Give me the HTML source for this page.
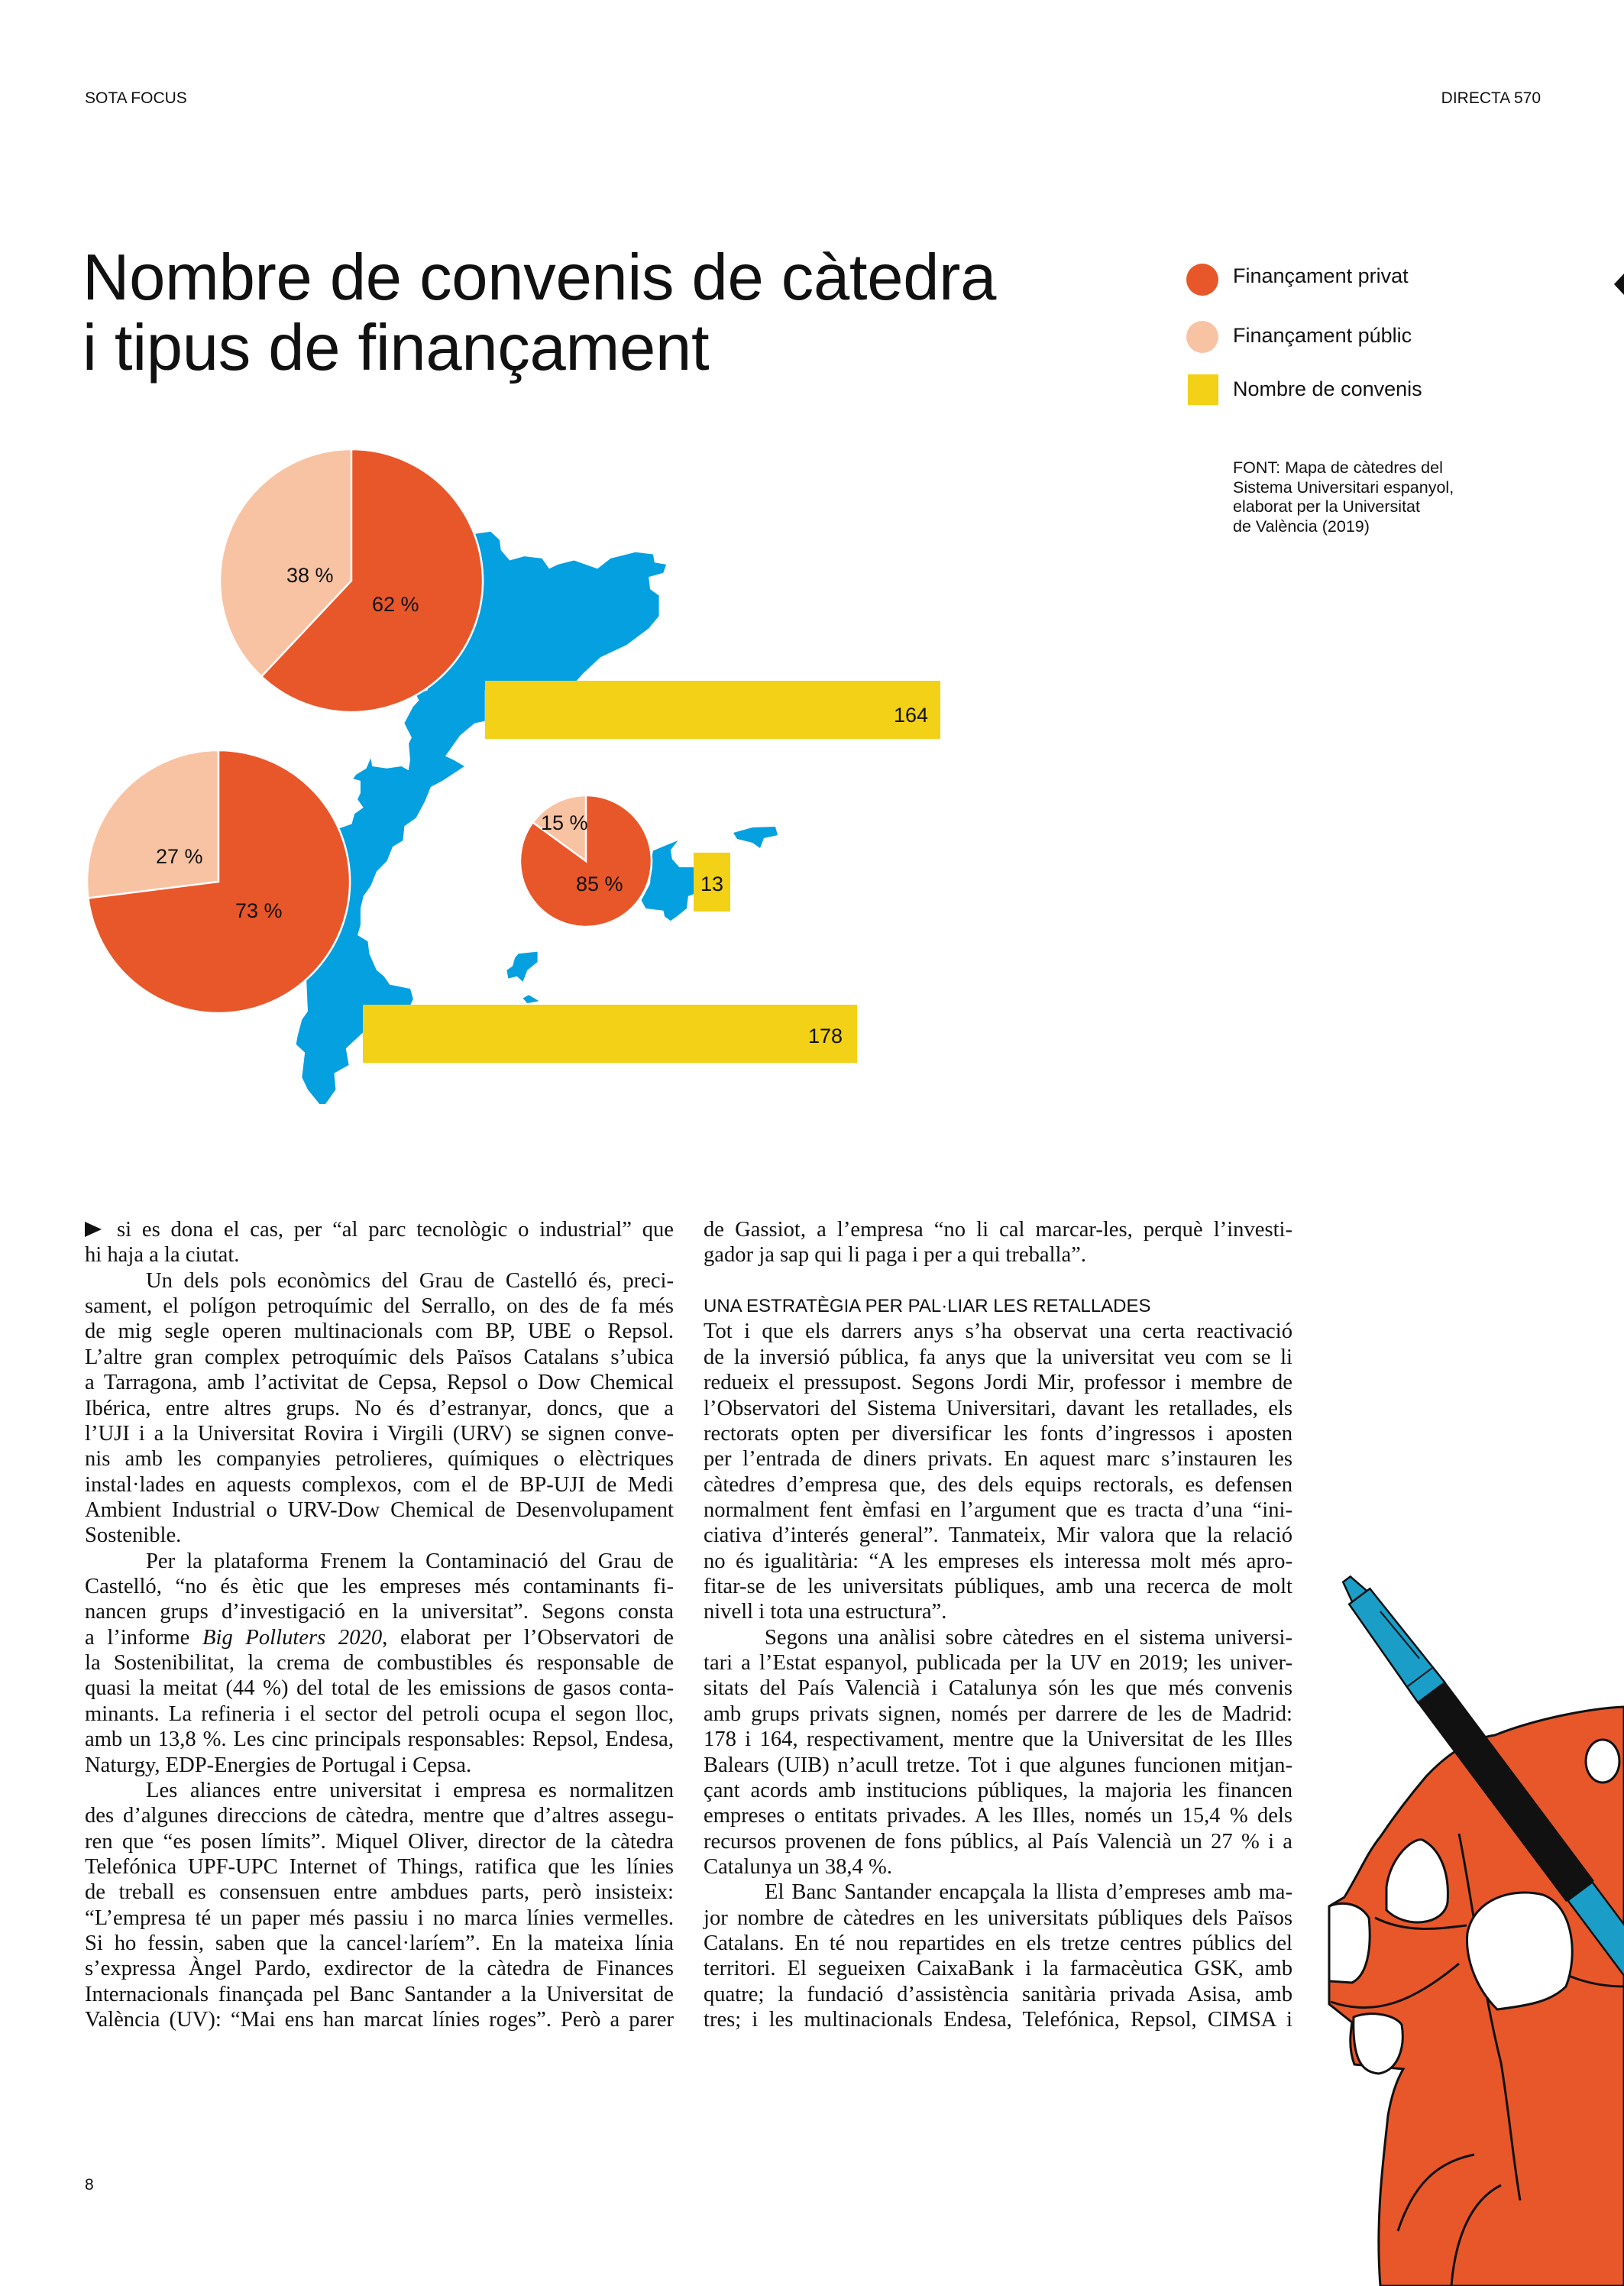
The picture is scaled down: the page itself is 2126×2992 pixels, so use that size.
<!DOCTYPE html>
<html><head><meta charset="utf-8">
<style>
html,body{margin:0;padding:0;background:#fff;}
body{width:2126px;height:2992px;position:relative;overflow:hidden;font-family:"Liberation Sans",sans-serif;color:#111;}
.abs{position:absolute;white-space:nowrap;}
.col{position:absolute;top:1593px;width:771px;font-family:"Liberation Serif",serif;font-size:28.6px;line-height:33.36px;color:#111;}
.col div{height:33.36px;white-space:nowrap;text-align:left;}
.col div.j{text-align:justify;text-align-last:justify;white-space:normal;overflow:visible;}
.col div.i{padding-left:80px;}
.lg{font-size:27px;}
.src{font-size:21.5px;line-height:25.5px;}
</style></head><body>

<div class="abs" style="left:111px;top:117px;font-size:21px;">SOTA FOCUS</div>
<div class="abs" style="right:109px;top:117px;font-size:21px;">DIRECTA 570</div>

<div class="abs" style="left:108px;top:318px;font-size:85px;line-height:92px;letter-spacing:-0.3px;">Nombre de convenis de càtedra<br>i tipus de finançament</div>

<svg class="abs" style="left:0;top:0" width="2126" height="1500">
  <circle cx="1574" cy="366" r="21" fill="#e8572a"/>
  <circle cx="1574" cy="441" r="21" fill="#f8c3a3"/>
  <rect x="1555" y="490" width="40" height="40" fill="#f2d116"/>
  <polygon points="2126,358 2113,372 2126,386" fill="#111"/>
  <g transform="translate(380,650) scale(0.383,0.539)" fill="#04a0e0">
    <path d="M635,90 L685,85 715,105 720,130 750,155 800,145 860,150 885,175 915,165 970,155 1050,175 1095,150 1180,135 1240,140 1245,160 1285,165 1275,185 1225,195 1230,225 1260,240 1260,290 1225,320 1150,360 1060,390 1000,430 975,450 975,470 665,470 665,545 630,550 580,580 560,600 530,630 560,640 595,655 520,690 480,705 460,740 430,780 390,800 385,835 350,850 330,885 295,910 275,945 250,970 240,1000 240,1040 230,1065 265,1080 270,1110 295,1150 320,1165 340,1185 410,1195 420,1220 400,1250 250,1250 250,1300 190,1340 200,1380 150,1400 155,1440 120,1475 100,1475 60,1440 40,1410 50,1350 20,1330 25,1310 40,1270 60,1250 55,1170 0,1190 0,800 170,805 210,795 220,770 250,755 230,735 240,720 240,690 215,685 225,675 260,660 275,635 280,655 330,660 380,655 405,665 400,680 410,640 405,600 415,585 390,550 420,510 440,495 430,480 470,470 400,300 500,150 Z"/>
    <path d="M1240,860 L1290,845 1325,835 1300,858 1305,880 1330,900 1380,900 1380,965 1360,970 1355,1000 1320,1020 1300,1030 1280,1020 1275,1005 1215,1000 1200,980 1230,940 1235,880 Z"/>
    <path d="M780,1110 L845,1105 845,1130 810,1150 795,1178 775,1165 745,1170 740,1150 760,1140 768,1120 Z"/>
    <path d="M795,1218 L815,1210 850,1225 810,1230 Z"/>
  </g>
  <polygon points="960,1090 985,1083 1015,1082 1018,1093 1000,1097 995,1110 985,1103 965,1098" fill="#04a0e0"/>
  <rect x="635" y="891" width="596" height="76" fill="#f2d116"/>
  <rect x="908" y="1116" width="48" height="77" fill="#f2d116"/>
  <rect x="475" y="1315" width="647" height="76" fill="#f2d116"/>
  <g stroke="#fff" stroke-width="2.5">
    <circle cx="460" cy="760" r="172" fill="#f8c3a3"/>
    <path d="M460,760 L460,588 A172,172 0 1,1 342.3,885.4 Z" fill="#e8572a"/>
    <circle cx="286" cy="1154" r="172" fill="#f8c3a3"/>
    <path d="M286,1154 L286,982 A172,172 0 1,1 115.4,1175.5 Z" fill="#e8572a"/>
    <circle cx="767" cy="1127" r="86" fill="#f8c3a3"/>
    <path d="M767,1127 L767,1041 A86,86 0 1,1 697.4,1076.4 Z" fill="#e8572a"/>
  </g>
  <g font-family="Liberation Sans, sans-serif" font-size="27" fill="#111">
    <text x="375" y="762">38 %</text>
    <text x="487" y="800">62 %</text>
    <text x="204" y="1130">27 %</text>
    <text x="308" y="1201">73 %</text>
    <text x="708" y="1086">15 %</text>
    <text x="754" y="1166">85 %</text>
    <text x="1215" y="945" text-anchor="end">164</text>
    <text x="932" y="1166" text-anchor="middle">13</text>
    <text x="1103" y="1365" text-anchor="end">178</text>
  </g>
</svg>

<div class="abs lg" style="left:1614px;top:346px;">Finançament privat</div>
<div class="abs lg" style="left:1614px;top:424px;">Finançament públic</div>
<div class="abs lg" style="left:1614px;top:494px;">Nombre de convenis</div>
<div class="abs src" style="left:1614px;top:600px;">FONT: Mapa de càtedres del<br>Sistema Universitari espanyol,<br>elaborat per la Universitat<br>de València (2019)</div>

<svg class="abs" style="left:111px;top:1599px" width="24" height="24"><polygon points="0,0 22,10 0,20" fill="#111"/></svg>

<div class="col" style="left:111px;">
<div class="j" style="padding-left:42px">si es dona el cas, per “al parc tecnològic o industrial” que</div>
<div>hi haja a la ciutat.</div>
<div class="j i">Un dels pols econòmics del Grau de Castelló és, preci-</div>
<div class="j">sament, el polígon petroquímic del Serrallo, on des de fa més</div>
<div class="j">de mig segle operen multinacionals com BP, UBE o Repsol.</div>
<div class="j">L’altre gran complex petroquímic dels Països Catalans s’ubica</div>
<div class="j">a Tarragona, amb l’activitat de Cepsa, Repsol o Dow Chemical</div>
<div class="j">Ibérica, entre altres grups. No és d’estranyar, doncs, que a</div>
<div class="j">l’UJI i a la Universitat Rovira i Virgili (URV) se signen conve-</div>
<div class="j">nis amb les companyies petrolieres, químiques o elèctriques</div>
<div class="j">instal·lades en aquests complexos, com el de BP-UJI de Medi</div>
<div class="j">Ambient Industrial o URV-Dow Chemical de Desenvolupament</div>
<div>Sostenible.</div>
<div class="j i">Per la plataforma Frenem la Contaminació del Grau de</div>
<div class="j">Castelló, “no és ètic que les empreses més contaminants fi-</div>
<div class="j">nancen grups d’investigació en la universitat”. Segons consta</div>
<div class="j">a l’informe <i>Big Polluters 2020</i>, elaborat per l’Observatori de</div>
<div class="j">la Sostenibilitat, la crema de combustibles és responsable de</div>
<div class="j">quasi la meitat (44 %) del total de les emissions de gasos conta-</div>
<div class="j">minants. La refineria i el sector del petroli ocupa el segon lloc,</div>
<div class="j">amb un 13,8 %. Les cinc principals responsables: Repsol, Endesa,</div>
<div>Naturgy, EDP-Energies de Portugal i Cepsa.</div>
<div class="j i">Les aliances entre universitat i empresa es normalitzen</div>
<div class="j">des d’algunes direccions de càtedra, mentre que d’altres assegu-</div>
<div class="j">ren que “es posen límits”. Miquel Oliver, director de la càtedra</div>
<div class="j">Telefónica UPF-UPC Internet of Things, ratifica que les línies</div>
<div class="j">de treball es consensuen entre ambdues parts, però insisteix:</div>
<div class="j">“L’empresa té un paper més passiu i no marca línies vermelles.</div>
<div class="j">Si ho fessin, saben que la cancel·laríem”. En la mateixa línia</div>
<div class="j">s’expressa Àngel Pardo, exdirector de la càtedra de Finances</div>
<div class="j">Internacionals finançada pel Banc Santander a la Universitat de</div>
<div class="j">València (UV): “Mai ens han marcat línies roges”. Però a parer</div>
</div>

<div class="col" style="left:921px;">
<div class="j">de Gassiot, a l’empresa “no li cal marcar-les, perquè l’investi-</div>
<div>gador ja sap qui li paga i per a qui treballa”.</div>
<div>&nbsp;</div>
<div style="font-family:'Liberation Sans',sans-serif;font-size:24px;">UNA ESTRATÈGIA PER PAL·LIAR LES RETALLADES</div>
<div class="j">Tot i que els darrers anys s’ha observat una certa reactivació</div>
<div class="j">de la inversió pública, fa anys que la universitat veu com se li</div>
<div class="j">redueix el pressupost. Segons Jordi Mir, professor i membre de</div>
<div class="j">l’Observatori del Sistema Universitari, davant les retallades, els</div>
<div class="j">rectorats opten per diversificar les fonts d’ingressos i aposten</div>
<div class="j">per l’entrada de diners privats. En aquest marc s’instauren les</div>
<div class="j">càtedres d’empresa que, des dels equips rectorals, es defensen</div>
<div class="j">normalment fent èmfasi en l’argument que es tracta d’una “ini-</div>
<div class="j">ciativa d’interés general”. Tanmateix, Mir valora que la relació</div>
<div class="j">no és igualitària: “A les empreses els interessa molt més apro-</div>
<div class="j">fitar-se de les universitats públiques, amb una recerca de molt</div>
<div>nivell i tota una estructura”.</div>
<div class="j i">Segons una anàlisi sobre càtedres en el sistema universi-</div>
<div class="j">tari a l’Estat espanyol, publicada per la UV en 2019; les univer-</div>
<div class="j">sitats del País Valencià i Catalunya són les que més convenis</div>
<div class="j">amb grups privats signen, només per darrere de les de Madrid:</div>
<div class="j">178 i 164, respectivament, mentre que la Universitat de les Illes</div>
<div class="j">Balears (UIB) n’acull tretze. Tot i que algunes funcionen mitjan-</div>
<div class="j">çant acords amb institucions públiques, la majoria les financen</div>
<div class="j">empreses o entitats privades. A les Illes, només un 15,4 % dels</div>
<div class="j">recursos provenen de fons públics, al País Valencià un 27 % i a</div>
<div>Catalunya un 38,4 %.</div>
<div class="j i">El Banc Santander encapçala la llista d’empreses amb ma-</div>
<div class="j">jor nombre de càtedres en les universitats públiques dels Països</div>
<div class="j">Catalans. En té nou repartides en els tretze centres públics del</div>
<div class="j">territori. El segueixen CaixaBank i la farmacèutica GSK, amb</div>
<div class="j">quatre; la fundació d’assistència sanitària privada Asisa, amb</div>
<div class="j">tres; i les multinacionals Endesa, Telefónica, Repsol, CIMSA i</div>
</div>

<div class="abs" style="left:111px;top:2848px;font-size:21px;">8</div>

<svg class="abs" style="left:1700px;top:2000px" width="426" height="992" viewBox="1700 2000 426 992">
  <path d="M1867,2325 C1900,2290 1930,2275 1957,2271 C2010,2250 2080,2236 2126,2234 L2126,2992 L1807,2992 C1800,2900 1812,2820 1817,2769 C1822,2740 1830,2720 1837,2708 L1773,2702 C1765,2680 1768,2660 1770,2647 L1740,2623 L1740,2495 L1760,2483 C1780,2450 1790,2425 1807,2404 C1830,2370 1850,2345 1867,2325 Z" fill="#e8572a" stroke="#111" stroke-width="3"/>
  <g fill="none" stroke="#111" stroke-width="3">
    <path d="M1910,2400 C1930,2500 1940,2600 1965,2700 C1975,2760 1980,2820 1990,2880"/>
    <path d="M1830,2920 C1850,2860 1880,2830 1930,2820"/>
    <path d="M1900,2992 C1905,2930 1925,2880 1965,2860"/>
    <path d="M1742,2620 C1800,2640 1850,2620 1910,2570"/>
    <path d="M1800,2510 C1840,2530 1880,2525 1920,2520"/>
    <path d="M2000,2550 C2040,2590 2090,2600 2126,2600"/>
  </g>
  <g transform="translate(1763,2067) rotate(53.2)">
    <polygon points="0,-6 28,-12 28,12 0,6" fill="#1a9ec8" stroke="#111" stroke-width="2.5"/>
    <polygon points="28,-17 185,-22 185,22 28,17" fill="#1a9ec8" stroke="#111" stroke-width="2.5"/>
    <line x1="60" y1="-10" x2="140" y2="-14" stroke="#111" stroke-width="2"/>
    <line x1="160" y1="-20" x2="160" y2="20" stroke="#111" stroke-width="2"/>
    <polygon points="185,-23 510,-23 510,23 185,23" fill="#111"/>
    <polygon points="510,-20 720,-20 720,20 510,20" fill="#1a9ec8" stroke="#111" stroke-width="2.5"/>
  </g>
  <g fill="#fff" stroke="#111" stroke-width="3">
    <ellipse cx="2098" cy="2305" rx="22" ry="28"/>
    <path d="M1815,2470 C1820,2430 1850,2405 1862,2408 C1885,2420 1898,2450 1895,2490 C1890,2520 1840,2525 1815,2500 Z"/>
    <path d="M1740,2495 C1755,2488 1780,2490 1792,2510 C1796,2550 1790,2585 1770,2595 L1740,2593 Z"/>
    <path d="M1921,2530 C1930,2485 1980,2470 2020,2480 C2060,2495 2066,2560 2050,2600 C2030,2620 2000,2625 1960,2630 C1930,2600 1918,2560 1921,2530 Z"/>
    <path d="M1772,2640 C1790,2632 1825,2635 1835,2650 C1840,2680 1830,2710 1805,2714 C1785,2712 1770,2700 1772,2640 Z"/>
  </g>
</svg>

</body></html>
